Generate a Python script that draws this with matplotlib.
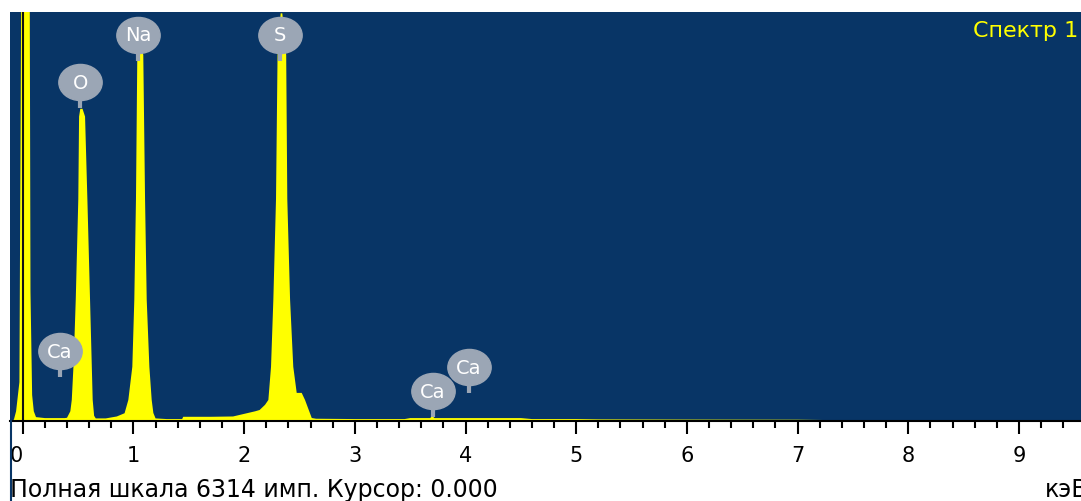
import numpy as np
import matplotlib.pyplot as plt
from matplotlib.markers import MarkerStyle
from matplotlib.transforms import Affine2D
from matplotlib.lines import Line2D

# spectrum (keV, counts)
energy_kev = [-0.115, -0.08, -0.06, -0.03, -0.01, 0.0, 0.06, 0.07, 0.085, 0.10, 0.12,
              0.2, 0.3, 0.38, 0.40, 0.43, 0.443, 0.46, 0.479, 0.502, 0.509, 0.52,
              0.54, 0.563, 0.584, 0.608, 0.632, 0.645, 0.66, 0.75, 0.85, 0.92,
              0.954, 0.99, 1.008, 1.023, 1.035, 1.045, 1.07, 1.089, 1.105,
              1.12, 1.144, 1.165, 1.18, 1.2, 1.3, 1.44, 1.45, 1.7, 1.9, 2.0, 2.1,
              2.14, 2.189, 2.219, 2.243, 2.264, 2.288, 2.302, 2.33, 2.345, 2.38,
              2.39, 2.415, 2.444, 2.475, 2.52, 2.55, 2.611, 2.65, 3.0, 3.45, 3.5,
              3.68, 3.7, 3.72, 4.0, 4.5, 4.6, 5.0, 5.2, 6.0, 7.0, 7.25, 7.3, 7.35,
              7.5, 7.55, 7.6, 7.8, 7.85, 7.9, 8.1, 8.2, 8.3, 8.35, 8.9, 8.92, 8.95,
              9.56]
counts = [0, 20, 150, 600, 8000, 9000, 9000, 2000, 400, 150, 60,
          45, 45, 45, 50, 150, 325, 900, 1875, 3425, 4700, 4820,
          4820, 4700, 3425, 1875, 325, 80, 40, 40, 70, 120,
          325, 837, 1875, 3425, 5650, 5800, 5800, 5650, 3425,
          1875, 837, 325, 124, 40, 30, 30, 65, 65, 70, 110, 150,
          170, 250, 325, 837, 1875, 3425, 5650, 6293, 6293, 5650,
          3425, 1875, 837, 434, 434, 325, 46, 35, 30, 30, 45,
          45, 75, 45, 45, 45, 30, 30, 25, 22, 20, 15, 0, 15,
          15, 0, 15, 15, 0, 15, 15, 0, 15, 0, 0, 15, 0,
          0]

# element markers: name, energy, label height (counts)
label_names = ['Ca', 'O', 'Na', 'S', 'Ca', 'Ca']
label_kev = [0.337, 0.52, 1.042, 2.324, 3.707, 4.03]
label_counts = [1080, 5230, 5960, 5960, 460, 830]

full_scale = 6314
blue = '#083566'
yellow = '#ffff00'
grey = '#9ba6b5'

fig = plt.figure(figsize=(10.81, 5.02), dpi=100)
W, H = 1081, 502
ax = fig.add_axes([10 / W, (H - 422) / H, (W - 10) / W, (422 - 13) / H])
ax.set_facecolor(blue)
ax.set_xlim(-0.115, 9.56)
ax.set_ylim(0, full_scale)

ax.fill_between(energy_kev, counts, 0, color=yellow, lw=0)
ax.axvline(0, color='#111111', lw=1.5)

# labels
stem = 26 * full_scale / 409
mk = MarkerStyle('o', transform=Affine2D().scale(1.2, 1.0))
for name, e, c in zip(label_names, label_kev, label_counts):
    ax.plot([e, e], [c, c - stem], color=grey, lw=3, solid_capstyle='butt')
    ax.plot(e, c, marker=mk, ms=26, color=grey, mec=grey)
    ax.text(e, c, name, color='white', ha='center', va='center', fontsize=14)

ax.text(0.997, 0.955, 'Спектр 1', transform=ax.transAxes, color=yellow,
        ha='right', va='center', fontsize=16)

for s in ['top', 'left', 'right']:
    ax.spines[s].set_visible(False)
ax.spines['bottom'].set_color('black')
ax.spines['bottom'].set_linewidth(1.5)
ax.set_yticks([])
ax.set_xticks(range(0, 10))
ax.set_xticklabels([str(i) for i in range(0, 10)])
ax.get_xticklabels()[0].set_horizontalalignment('right')
ax.set_xticks(np.arange(0, 9.6, 0.2), minor=True)
ax.tick_params(axis='x', which='major', direction='out', length=9, width=1.5,
               labelsize=15, pad=8)
ax.tick_params(axis='x', which='minor', direction='out', length=5, width=1.5)

fig.text(10 / W, 1 - 490 / H, 'Полная шкала 6314 имп. Курсор: 0.000',
         ha='left', va='center', fontsize=17)
fig.text(1045 / W, 1 - 490 / H, 'кэВ', ha='left', va='center', fontsize=17)
fig.add_artist(Line2D([10.5 / W, 10.5 / W], [0, 1 - 422 / H], color=blue, lw=1.5))

fig.savefig('out.png', dpi=100, facecolor='white')
